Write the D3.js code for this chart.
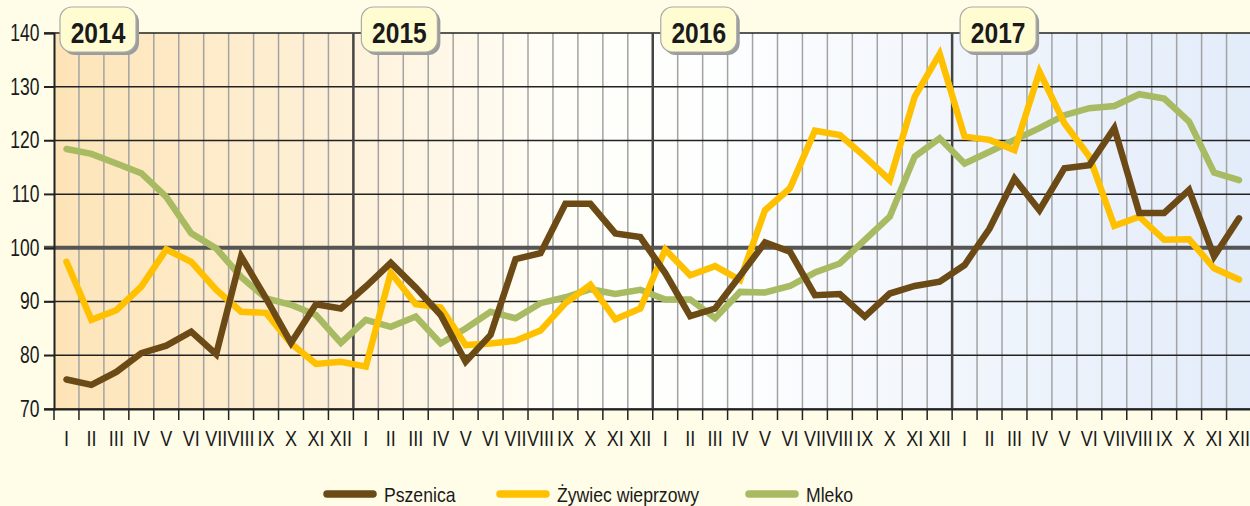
<!DOCTYPE html>
<html><head><meta charset="utf-8">
<script src="https://cdn.jsdelivr.net/npm/d3@7"></script>
<style>
html,body{margin:0;padding:0;background:#FFFDE8;}
svg{display:block;}
text{font-family:"Liberation Sans",Arial,sans-serif;fill:#1a1a1a;}
</style></head>
<body><svg id="c" width="1250" height="506"></svg>
<script>
const years = ["2014","2015","2016","2017"];
const monthLabels = ["I","II","III","IV","V","VI","VII","VIII","IX","X","XI","XII"];
const yTicks = [70,80,90,100,110,120,130,140];
const seriesNames = ["Pszenica","Żywiec wieprzowy","Mleko"];
const seriesColors = ["#6B4A16","#FFC000","#A8BB63"];

const pszenica = [75.5,74.5,76.9,80.4,81.8,84.4,80.2,98.4,90.6,82.3,89.5,88.7,
  92.8,97.2,92.6,87.5,78.8,83.8,97.9,99.0,108.2,108.2,102.7,102.0,
  95.3,87.3,88.7,94.8,101.0,99.3,91.2,91.4,87.2,91.5,92.9,93.7,
  96.8,103.6,112.9,107.0,114.8,115.4,122.3,106.5,106.5,110.8,98.4,105.5];
const zywiec = [97.4,86.6,88.4,92.8,99.7,97.4,92.2,88.1,87.9,82.2,78.4,78.8,
  77.9,95.4,89.5,88.9,81.9,82.2,82.7,84.6,89.7,93.1,86.7,88.7,
  99.7,94.9,96.6,94.0,107.0,111.1,121.8,121.0,117.0,112.6,128.1,136.1,
  120.7,120.1,118.2,132.8,123.2,117.0,104.1,105.8,101.5,101.6,96.2,94.1];
const mleko = [118.4,117.5,115.7,113.9,109.5,102.7,99.9,94.6,90.6,89.4,87.5,82.3,
  86.6,85.3,87.2,82.2,85.0,88.1,86.9,89.7,90.8,92.3,91.4,92.2,
  90.4,90.4,86.9,91.8,91.7,92.9,95.4,97.1,101.5,105.8,117.0,120.4,
  115.7,117.9,120.1,122.3,124.7,126.0,126.4,128.6,127.8,123.5,114.0,112.6];

const months = [];
years.forEach(y => monthLabels.forEach(m => months.push(y + "-" + m)));

const NARROW = 0.82;
const svg = d3.select("#c");
const L = 54, R = 1251.5, T = 33, B = 409;
const x = d3.scaleBand().domain(months).range([L, R]);
const y = d3.scaleLinear().domain([70, 140]).range([B, T]);

function ntext(sel, px, py, str, size, anchor, weight, sx) {
  return sel.append("text")
    .attr("transform", `translate(${px},${py}) scale(${sx || NARROW},1)`)
    .attr("text-anchor", anchor || "start")
    .attr("font-size", size)
    .attr("font-weight", weight || "normal")
    .attr("fill", "#1a1a1a")
    .text(str);
}

// background gradient
const defs = svg.append("defs");
const g = defs.append("linearGradient").attr("id","bg").attr("x1","0").attr("x2","1").attr("y1","0").attr("y2","0");
g.append("stop").attr("offset","0%").attr("stop-color","#FDE4B7");
g.append("stop").attr("offset","22%").attr("stop-color","#FEF0D6");
g.append("stop").attr("offset","42%").attr("stop-color","#FFFEF8");
g.append("stop").attr("offset","55%").attr("stop-color","#FDFEFE");
g.append("stop").attr("offset","100%").attr("stop-color","#E3ECFA");
svg.append("rect").attr("x",L).attr("y",T).attr("width",R-L).attr("height",B-T).attr("fill","url(#bg)");

// month grid lines
const bounds = months.map(m => x(m)).concat([R]);
svg.append("g").selectAll("line").data(bounds.slice(1,-1).filter((d,i)=>(i+1)%12!==0)).join("line")
  .attr("x1",d=>d).attr("x2",d=>d).attr("y1",T).attr("y2",B)
  .attr("stroke","#a3a3a3").attr("stroke-width",1.5);

// horizontal grid lines
svg.append("g").selectAll("line").data(yTicks.filter(v=>v!==100)).join("line")
  .attr("x1",L-10).attr("x2",R).attr("y1",d=>y(d)).attr("y2",d=>y(d))
  .attr("stroke","#222").attr("stroke-width",1.5);

// year divider lines
svg.append("g").selectAll("line").data(years.slice(1).map(yr=>x(yr+"-I"))).join("line")
  .attr("x1",d=>d).attr("x2",d=>d).attr("y1",T).attr("y2",B)
  .attr("stroke","#444").attr("stroke-width",2.5);

// 100 line
svg.append("line").attr("x1",L-10).attr("x2",R).attr("y1",y(100)).attr("y2",y(100))
  .attr("stroke","#555").attr("stroke-width",4);

// y axis
const YSX = 0.76;
const yAxis = d3.axisLeft(y).tickValues(yTicks).tickSize(10).tickPadding(4);
const ya = svg.append("g").attr("transform",`translate(${L},0)`).call(yAxis);
ya.select(".domain").attr("stroke","#222").attr("stroke-width",2);
ya.selectAll(".tick line").attr("stroke","#222").attr("stroke-width",1.5);
ya.selectAll("text").attr("font-size",23).attr("fill","#1a1a1a")
  .attr("x",-14.5/YSX).attr("transform",`scale(${YSX},1)`)
  .style("font-family",'"Liberation Sans",Arial,sans-serif');

// x axis
const xAxis = d3.axisBottom(x).tickFormat(d=>d.split("-")[1]).tickSize(0).tickPadding(21);
const xa = svg.append("g").attr("transform",`translate(0,${B})`).call(xAxis);
xa.select(".domain").attr("stroke","#222").attr("stroke-width",2);
xa.selectAll("text").attr("font-size",22).attr("fill","#1a1a1a")
  .attr("transform",`scale(${NARROW},1)`)
  .style("font-family",'"Liberation Sans",Arial,sans-serif');
svg.append("g").selectAll("line").data(bounds).join("line")
  .attr("x1",d=>d).attr("x2",d=>d).attr("y1",B).attr("y2",B+11)
  .attr("stroke","#222").attr("stroke-width",1.5);

// data lines
const data = [pszenica, zywiec, mleko];
const line = d3.line().x((d,i)=>x(months[i])+x.bandwidth()/2).y(d=>y(d));
[2,1,0].forEach(k=>{
  svg.append("path").datum(data[k]).attr("d",line).attr("fill","none")
    .attr("stroke",seriesColors[k]).attr("stroke-width",6.5)
    .attr("stroke-linejoin","miter").attr("stroke-linecap","round");
});

// year labels
years.forEach(yr=>{
  const x0 = x(yr+"-I") + (yr==="2014"?6:8);
  const gy = svg.append("g");
  gy.append("rect").attr("x",x0+3).attr("y",10).attr("width",76).attr("height",45).attr("rx",12)
    .attr("fill","#9c9c9c");
  gy.append("rect").attr("x",x0).attr("y",7).attr("width",76).attr("height",45).attr("rx",12)
    .attr("fill","#FFFCD2").attr("stroke","#aaa").attr("stroke-width",1.2);
  ntext(gy, x0+38, 43, yr, 30, "middle", "bold");
});

// legend
const legX = [324, 497, 746];
const lg = svg.append("g");
seriesNames.forEach((n,i)=>{
  lg.append("line").attr("x1",legX[i]+3).attr("x2",legX[i]+49).attr("y1",494).attr("y2",494)
    .attr("stroke",seriesColors[i]).attr("stroke-width",7.5).attr("stroke-linecap","round");
  ntext(lg, legX[i]+60, 501.5, n, 20.5, "start", "normal", 0.86);
});
</script></body></html>
